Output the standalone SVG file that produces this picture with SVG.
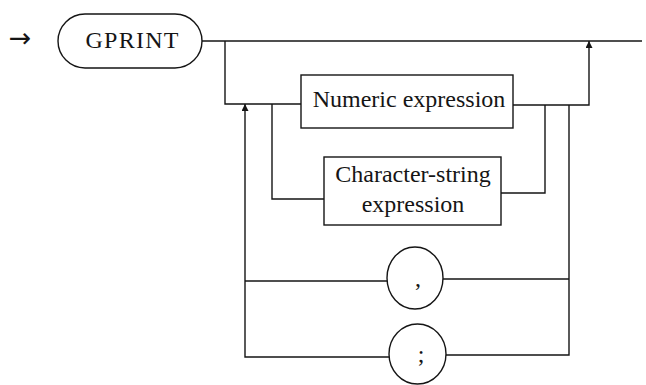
<svg xmlns="http://www.w3.org/2000/svg" width="646" height="385" viewBox="0 0 646 385">
<style>
.ln{fill:none;stroke:#151515;stroke-width:1.4}
.bx{fill:#fff;stroke:#151515;stroke-width:1.4}
.t{font-family:"Liberation Serif","Times New Roman",serif;fill:#151515;text-anchor:middle;font-size:24px}
</style>
<defs>
<marker id="ah" viewBox="0 0 10 10" refX="10" refY="5" markerWidth="9" markerHeight="7" markerUnits="userSpaceOnUse" orient="auto">
<path d="M0,0 L10,5 L0,10 Z" fill="#151515"/>
</marker>
</defs>
<rect width="646" height="385" fill="#fff"/>
<text x="20" y="47" font-family="DejaVu Sans, sans-serif" font-size="27" text-anchor="middle" fill="#151515">→</text>
<g id="connectors">
<path class="ln" d="M202,41 H642"/>
<path class="ln" d="M225,41 V104 H301"/>
<path class="ln" d="M513,105 H589 V41" marker-end="url(#ah)"/>
<path class="ln" d="M545,105 V193 H501"/>
<path class="ln" d="M569,105 V355 H446"/>
<path class="ln" d="M443,279 H569"/>
<path class="ln" d="M389,357 H245 V104" marker-end="url(#ah)"/>
<path class="ln" d="M245,281 H387"/>
<path class="ln" d="M272,104 V199 H324"/>
</g>
<g id="gprint">
<rect class="bx" x="58" y="14" width="144" height="54" rx="27" ry="27"/>
<text class="t" x="132" y="48" textLength="93" lengthAdjust="spacing">GPRINT</text>
</g>
<g id="numeric">
<rect class="bx" x="301" y="75" width="212" height="53"/>
<text class="t" x="409" y="107">Numeric expression</text>
</g>
<g id="charstring">
<rect class="bx" x="324" y="157" width="177" height="68"/>
<text class="t" x="413" y="182">Character-string</text>
<text class="t" x="413" y="212">expression</text>
</g>
<g id="comma">
<ellipse class="bx" cx="415" cy="278" rx="28" ry="31"/>
<text class="t" x="418" y="286">,</text>
</g>
<g id="semicolon">
<ellipse class="bx" cx="417.5" cy="354" rx="28.5" ry="30"/>
<text class="t" x="421" y="362">;</text>
</g>
</svg>
